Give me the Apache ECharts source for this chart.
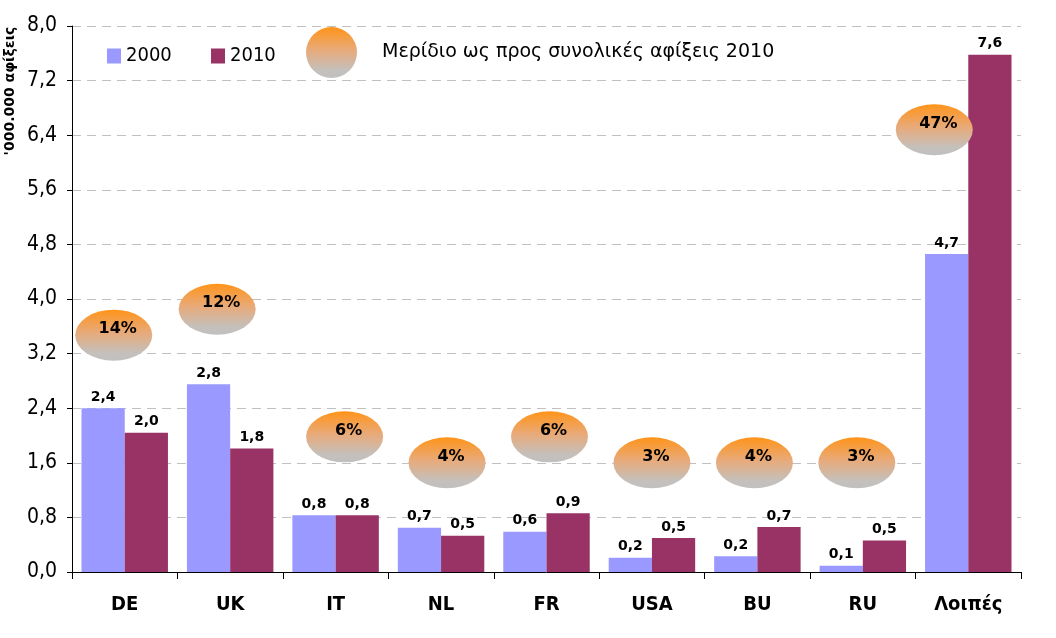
<!DOCTYPE html>
<html>
<head>
<meta charset="utf-8">
<script src="https://cdn.jsdelivr.net/npm/echarts@6/dist/echarts.min.js"></script>
<style>
html,body{margin:0;padding:0;background:#fff;}
#chart{width:1056px;height:638px;}
</style>
</head>
<body>
<div id="chart"></div>
<script>
// ---- data ----
var categories = ['DE', 'UK', 'IT', 'NL', 'FR', 'USA', 'BU', 'RU', 'Λοιπές'];
var arrivals2000 = [2.40, 2.75, 0.83, 0.65, 0.59, 0.21, 0.23, 0.09, 4.66];
var arrivals2010 = [2.04, 1.81, 0.83, 0.53, 0.86, 0.50, 0.66, 0.46, 7.58];
var share2010 = [14, 12, 6, 4, 6, 3, 4, 3, 47];
var yTicks = { min: 0, max: 8, interval: 0.8 };
var seriesNames = ['2000', '2010', 'Μερίδιο ως προς συνολικές αφίξεις 2010'];
var yAxisTitle = "'000.000 αφίξεις";

// placement of the share ellipses (value-axis height and pixel nudge)
var bubbleY = [3.47, 3.85, 1.98, 1.60, 1.98, 1.60, 1.60, 1.60, 6.48];
var bubbleDx = [-11, -13, 9, 6, 3, 0, -3, -6, -34];

function fmt(v) { return v.toFixed(1).replace('.', ','); }

var ellipsePath = 'path://M0,50 A50,50 0 1,1 100,50 A50,50 0 1,1 0,50 Z';
var bubbleColor = new echarts.graphic.LinearGradient(0, 0, 0, 1, [
  { offset: 0, color: '#ff9419' },
  { offset: 0.45, color: '#e8aa7a' },
  { offset: 0.85, color: '#c4c0bc' },
  { offset: 1, color: '#c0c0c0' }
]);

var chart = echarts.init(document.getElementById('chart'), null, { renderer: 'canvas' });

var bubbleData = categories.map(function (c, i) {
  return { value: [i, bubbleY[i]], symbolOffset: [bubbleDx[i], 0] };
});

var option = {
  animation: false,
  backgroundColor: '#ffffff',
  grid: { left: 72, right: 35, top: 26, bottom: 66, containLabel: false },
  legend: [
    {
      data: [seriesNames[0]], left: 107, top: 46, padding: 0,
      itemWidth: 14, itemHeight: 15, icon: 'rect',
      textStyle: { fontFamily: 'DejaVu Sans Condensed', fontSize: 20, color: '#000' }
    },
    {
      data: [seriesNames[1]], left: 211, top: 46, padding: 0,
      itemWidth: 14, itemHeight: 15, icon: 'rect',
      textStyle: { fontFamily: 'DejaVu Sans Condensed', fontSize: 20, color: '#000' }
    },
    {
      data: [seriesNames[2]], left: 306, top: 27, padding: 0,
      itemWidth: 51, itemHeight: 52,
      textStyle: { fontFamily: 'DejaVu Sans', fontSize: 19, color: '#000', padding: [0, 0, 4, 20] }
    }
  ],
  graphic: [
    {
      type: 'text', x: 10, y: 91, rotation: Math.PI / 2,
      style: {
        text: yAxisTitle, x: 0, y: 0, align: 'center', verticalAlign: 'middle',
        font: 'bold 14px "DejaVu Sans"', fill: '#000'
      }
    }
  ],
  xAxis: {
    type: 'category',
    data: categories,
    axisLine: { lineStyle: { color: '#000', width: 1 } },
    axisTick: { show: true, length: 7, lineStyle: { color: '#000' } },
    axisLabel: {
      margin: 23, color: '#000', fontSize: 20, fontWeight: 'bold',
      fontFamily: 'DejaVu Sans Condensed'
    },
    splitLine: { show: false }
  },
  yAxis: {
    type: 'value',
    min: yTicks.min, max: yTicks.max, interval: yTicks.interval,
    axisLine: { show: true, lineStyle: { color: '#000', width: 1 } },
    axisTick: { show: true, length: 5, lineStyle: { color: '#000' } },
    axisLabel: {
      margin: 15, color: '#000', fontSize: 21,
      fontFamily: 'DejaVu Sans Condensed', formatter: fmt
    },
    splitLine: { show: true, lineStyle: { color: '#c0c0c0', type: [9, 6], width: 1 } }
  },
  series: [
    {
      name: seriesNames[0], type: 'bar', data: arrivals2000,
      barGap: '0%', barCategoryGap: '18%',
      itemStyle: { color: '#9999ff' },
      label: {
        show: true, position: 'top', distance: 4, color: '#000',
        fontFamily: 'DejaVu Sans', fontWeight: 'bold', fontSize: 14,
        formatter: function (p) { return fmt(p.value); }
      },
      z: 2
    },
    {
      name: seriesNames[1], type: 'bar', data: arrivals2010,
      barGap: '0%', barCategoryGap: '18%',
      itemStyle: { color: '#993366' },
      label: {
        show: true, position: 'top', distance: 4, color: '#000',
        fontFamily: 'DejaVu Sans', fontWeight: 'bold', fontSize: 14,
        formatter: function (p) { return fmt(p.value); }
      },
      z: 2
    },
    {
      name: seriesNames[2], type: 'scatter', data: bubbleData,
      symbol: ellipsePath, symbolSize: [77, 51],
      itemStyle: { color: bubbleColor, opacity: 1 },
      label: {
        show: true, position: 'inside', offset: [4, -6], color: '#000',
        fontFamily: 'DejaVu Sans', fontWeight: 'bold', fontSize: 16,
        formatter: function (p) { return share2010[p.dataIndex] + '%'; }
      },
      emphasis: { disabled: true },
      z: 5
    }
  ]
};

chart.setOption(option);
</script>
</body>
</html>
